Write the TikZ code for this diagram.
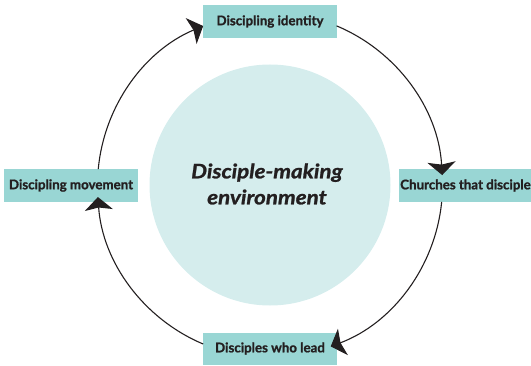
\documentclass[tikz,border=0pt]{standalone}
\usepackage{fontspec}
\setmainfont{Lato}[BoldFeatures={FakeBold=1.2}, BoldItalicFeatures={FakeBold=1.2}]
\newfontfamily\envfont{Lato}[FakeStretch=1.12, BoldItalicFeatures={FakeBold=1.2}]
\usetikzlibrary{arrows.meta,calc}
\definecolor{boxteal}{HTML}{99D6D4}
\definecolor{envfill}{HTML}{D5EDED}
\definecolor{ink}{HTML}{231F20}
\begin{document}
\begin{tikzpicture}[x=1pt,y=1pt,
  stage/.style={fill=boxteal, text=ink, font=\bfseries\fontsize{13.3}{15}\selectfont, minimum height=33pt, minimum width=134pt, inner xsep=1pt, inner ysep=0pt},
  cyc/.style={draw=ink, line width=1.1pt, -{Stealth[length=13pt,width=28pt,inset=2.5pt]}}]
\useasboundingbox (0,0) rectangle (531,365);
\coordinate (c) at (270,180);
\node[circle, fill=envfill, minimum size=241pt, inner sep=0pt] (env) at (270,180) {};
\node[text=ink, font=\envfont\bfseries\itshape\fontsize{20}{26}\selectfont, align=center] (envlabel) at (267,181) {Disciple-making\\environment};
\node[stage] (top) at (270,343.5) {Discipling identity};
\node[stage, minimum width=131pt] (right) at (465.5,179.5) {Churches that disciple};
\node[stage, minimum height=32pt] (bottom) at (270,16.5) {Disciples who lead};
\node[stage] (left) at (71,179.5) {Discipling movement};
\coordinate (a1) at ($(c)+(67.3:172.5)$);
\coordinate (a2) at ($(c)+(-5.6:172.5)$);
\coordinate (a3) at ($(c)+(-112.8:172.5)$);
\coordinate (a4) at ($(c)+(174.7:172.5)$);
\draw[cyc] (a1) arc[start angle=67.3, end angle=3.3, radius=172.5];
\draw[cyc] (a2) arc[start angle=-5.6, end angle=-69.4, radius=172.5];
\draw[cyc] (a3) arc[start angle=-112.8, end angle=-176, radius=172.5];
\draw[cyc] (a4) arc[start angle=174.7, end angle=112.8, radius=172.5];
\end{tikzpicture}
\end{document}
